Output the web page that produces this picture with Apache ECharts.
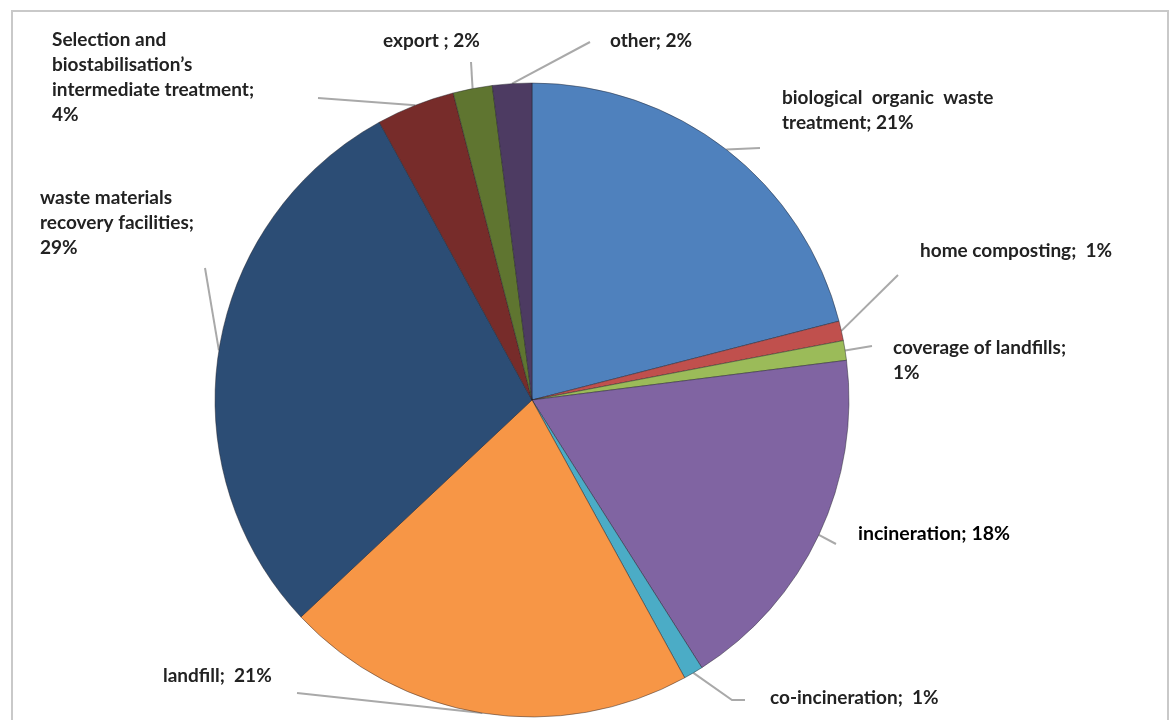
<!DOCTYPE html>
<html>
<head>
<meta charset="utf-8">
<title>Waste treatment shares</title>
<script src="https://cdn.jsdelivr.net/npm/echarts@6/dist/echarts.min.js"></script>
<style>
  html, body { margin: 0; padding: 0; background: #fff; }
  #chart { width: 1171px; height: 720px; }
</style>
</head>
<body>
<div id="chart"></div>
<script>
// Categories, clockwise from 12 o'clock
const categories = [
  'biological organic waste treatment',
  'home composting',
  'coverage of landfills',
  'incineration',
  'co-incineration',
  'landfill',
  'waste materials recovery facilities',
  'Selection and biostabilisation\u2019s intermediate treatment',
  'export',
  'other'
];

// Share of each destination, percent
const shares = [21, 1, 1, 18, 1, 21, 29, 4, 2, 2];

// Slice colours
const sliceColors = [
  '#4F81BD', '#C0504D', '#9BBB59', '#8064A2', '#4BACC6',
  '#F79646', '#2C4D75', '#772C2A', '#5F7530', '#4D3B62'
];

// Wrapped label text for each category ({v} = share)
const labelText = [
  'biological  organic  waste\ntreatment; {v}%',
  'home composting;  {v}%',
  'coverage of landfills;\n{v}%',
  'incineration; {v}%',
  'co-incineration;  {v}%',
  'landfill;  {v}%',
  'waste materials\nrecovery facilities;\n{v}%',
  'Selection and\nbiostabilisation\u2019s\nintermediate treatment;\n{v}%',
  'export ; {v}%',
  'other; {v}%'
];

// Label placement: top-left of text block and the outer end of the leader line
const labelPlace = [
  { x: 782, y: 85,  tail: [[760, 148]] },
  { x: 920, y: 238, tail: [[898, 275]] },
  { x: 893, y: 335, tail: [[872, 346]] },
  { x: 858, y: 521, tail: [[836, 544]], dark: true },
  { x: 770, y: 685, tail: [[732, 700], [745, 700]] },
  { x: 163, y: 663, tail: [[297, 693]] },
  { x: 40,  y: 185, tail: [[205, 268]] },
  { x: 52,  y: 27,  tail: [[318, 98]] },
  { x: 383, y: 28,  tail: [[471, 62]] },
  { x: 610, y: 28,  tail: [[590, 42]] }
];

const chart = echarts.init(document.getElementById('chart'), null, { renderer: 'canvas' });

const option = {
  animation: false,
  backgroundColor: '#ffffff',
  graphic: [{
    type: 'rect',
    silent: true,
    shape: { x: 12, y: 11, width: 1156, height: 730 },
    style: { fill: 'none', stroke: '#c9c9c9', lineWidth: 2 }
  }],
  series: [{
    type: 'pie',
    center: [532, 400],
    radius: 317,
    startAngle: 90,
    clockwise: true,
    avoidLabelOverlap: false,
    data: categories.map((name, i) => ({
      name,
      value: shares[i],
      itemStyle: { color: sliceColors[i] },
      label: labelPlace[i].dark
        ? { color: '#000000', fontSize: 19.5 }
        : { color: '#222222' }
    })),
    itemStyle: {
      borderColor: 'rgba(30,30,40,0.45)',
      borderWidth: 1
    },
    label: {
      show: true,
      position: 'outside',
      fontFamily: 'Lato, "Open Sans", sans-serif',
      fontWeight: 'bold',
      fontSize: 19,
      lineHeight: 25,
      formatter: (p) => labelText[p.dataIndex].replace('{v}', p.value)
    },
    labelLine: {
      show: true,
      length: 10,
      length2: 10,
      lineStyle: { color: '#a9a9a9', width: 2 }
    },
    labelLayout: (params) => {
      const place = labelPlace[params.dataIndex];
      const pts = params.labelLinePoints;
      const out = {
        x: place.x,
        y: place.y,
        align: 'left',
        verticalAlign: 'top'
      };
      if (pts && pts.length) {
        out.labelLinePoints = [pts[0]].concat(place.tail);
      }
      return out;
    }
  }]
};

chart.setOption(option);
</script>
</body>
</html>
